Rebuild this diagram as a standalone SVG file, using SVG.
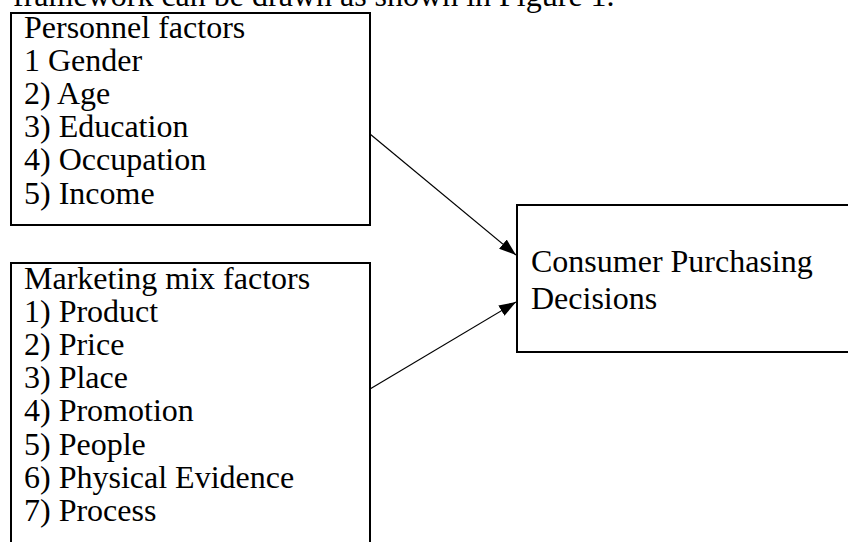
<svg xmlns="http://www.w3.org/2000/svg" width="848" height="542" viewBox="0 0 848 542">
<style>
text{font-family:"Liberation Serif","Times New Roman",serif;font-size:32px;fill:#000}
.box{fill:#fff;stroke:#000;stroke-width:2}
.conn{stroke:#000;stroke-width:1.2;fill:none}
</style>
<defs>
<marker id="ah" viewBox="0 0 10 10" refX="10" refY="5" markerUnits="userSpaceOnUse" markerWidth="17" markerHeight="12" orient="auto" preserveAspectRatio="none">
<path d="M0,0 L10,5 L0,10 z" fill="#000"/>
</marker>
</defs>
<rect width="848" height="542" fill="#fff"/>
<text x="13" y="6">framework can be drawn as shown in Figure 1.</text>
<g id="personnel">
<rect class="box" x="11" y="13" width="359" height="212"/>
<text x="24" y="37.5">Personnel factors</text>
<text x="24" y="70.7">1 Gender</text>
<text x="24" y="103.9">2) Age</text>
<text x="24" y="137.1">3) Education</text>
<text x="24" y="170.3">4) Occupation</text>
<text x="24" y="203.5">5) Income</text>
</g>
<g id="marketing">
<rect class="box" x="11" y="263" width="359" height="300"/>
<text x="24" y="288.5">Marketing mix factors</text>
<text x="24" y="321.7">1) Product</text>
<text x="24" y="354.9">2) Price</text>
<text x="24" y="388.1">3) Place</text>
<text x="24" y="421.3">4) Promotion</text>
<text x="24" y="454.5">5) People</text>
<text x="24" y="487.7">6) Physical Evidence</text>
<text x="24" y="520.9">7) Process</text>
</g>
<g id="decision">
<rect class="box" x="517" y="205" width="340" height="147"/>
<text x="531" y="272">Consumer Purchasing</text>
<text x="531" y="308.5">Decisions</text>
</g>
<g id="connectors">
<line class="conn" x1="370" y1="134" x2="516" y2="255" marker-end="url(#ah)"/>
<line class="conn" x1="370" y1="389" x2="516" y2="302" marker-end="url(#ah)"/>
</g>
</svg>
